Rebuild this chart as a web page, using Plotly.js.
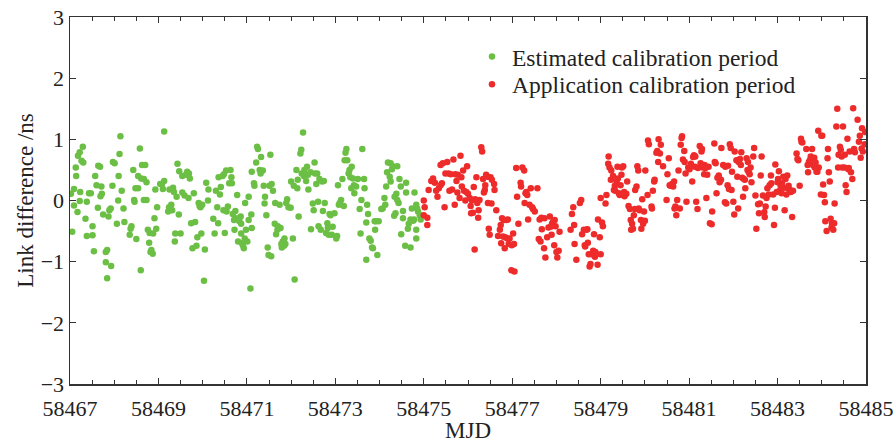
<!DOCTYPE html>
<html>
<head>
<meta charset="utf-8">
<script src="https://cdn.plot.ly/plotly-3.0.1.min.js"></script>
<style>html,body{margin:0;padding:0;background:#fff;}#chart{width:894px;height:443px;}</style>
</head>
<body>
<div id="chart"></div>
<script>
// Estimated calibration period (green), MJD and link difference (ns)
const estX1 = [58467.02,58467.05,58467.09,58467.09,58467.13,58467.14,58467.17,58467.18,58467.22,58467.23,
58467.22,58467.26,58467.29,58467.30,58467.35,58467.38,58467.38,58467.43,58467.47,58467.51,
58467.51,58467.54,58467.57,58467.60,58467.63,58467.64,58467.68,58467.69,58467.71,58467.72,
58467.75,58467.81,58467.81,58467.84,58467.84,58467.87,58467.89,58467.92,58467.93,58467.96,
58467.97,58468.01,58468.06,58468.09,58468.10,58468.12,58468.14,58468.17,58468.21,58468.23,
58468.35,58468.37,58468.39,58468.43,58468.45,58468.46,58468.48,58468.50,58468.54,58468.54,
58468.58,58468.60,58468.61,58468.63,58468.67,58468.70,58468.67,58468.73,58468.73,58468.76,
58468.80,58468.79,58468.82,58468.84,58468.87,58468.88,58468.91,58468.93,58468.95,58468.97,
58469.04,58469.08,58469.10,58469.13,58469.13,58469.22,58469.24,58469.25,58469.27,58469.29,
58469.31,58469.33,58469.35,58469.37,58469.38,58469.41,58469.43,58469.46,58469.47,58469.50,
58469.54,58469.54,58469.59,58469.62,58469.65,58469.68,58469.69,58469.71,58469.74,58469.77,
58469.80,58469.83,58469.86,58469.88,58469.91,58469.93,58469.95,58469.97,58469.99,58470.03,
58470.05,58470.08,58470.12,58470.13,58470.24,58470.27,58470.30,58470.33,58470.35,58470.36,
58470.39,58470.41,58470.45,58470.47,58470.48,58470.50,58470.53,58470.54,58470.57,58470.60];
const estY1 = [0.11,-0.51,0.19,-0.08,0.54,0.40,-0.19,0.73,0.79,0.14,
-0.01,0.65,0.88,0.62,-0.30,-0.02,-0.58,0.12,0.12,-0.42,
-0.57,-0.83,0.40,0.25,-0.12,0.57,0.55,0.07,0.23,0.11,
-0.23,-0.84,-1.01,-0.81,-1.27,-0.26,-0.16,-0.13,-1.07,0.24,
0.63,0.61,-0.38,0.00,0.40,0.76,1.05,0.16,-0.13,-0.35,
-0.56,-0.46,-0.42,0.50,0.01,-0.02,0.20,-0.63,0.20,0.40,
0.85,-1.14,0.36,0.58,0.01,0.58,0.35,0.01,0.30,-0.48,
-0.53,-0.69,-0.84,-0.81,-0.87,-0.54,-0.29,0.18,-0.46,-0.11,
0.27,0.27,0.19,1.13,0.32,-0.18,-0.11,0.18,-0.13,-0.07,
-0.16,0.21,0.14,-0.67,-0.54,0.06,0.60,-0.23,0.48,-0.54,
0.40,0.13,0.08,0.42,0.47,0.04,0.44,0.36,-0.37,-0.78,
0.12,-0.35,-0.74,-0.60,-0.04,-0.09,-0.11,-0.54,-0.07,-1.31,
-0.80,0.29,0.00,0.18,-0.30,-0.54,0.16,-0.11,-0.37,0.38,
0.10,0.22,0.40,-0.16,0.43,-0.53,0.49,-0.18,-0.10,0.28];

const estX2 = [58470.63,58470.65,58470.66,58470.68,58470.71,58470.72,58470.74,58470.76,58470.78,58470.80,
58470.83,58470.86,58470.87,58470.87,58470.89,58470.91,58470.93,58470.95,58470.96,58470.98,
58471.01,58471.04,58471.04,58471.08,58471.10,58471.11,58471.11,58471.16,58471.17,58471.21,
58471.23,58471.25,58471.29,58471.31,58471.32,58471.36,58471.38,58471.40,58471.41,58471.44,
58471.47,58471.49,58471.51,58471.53,58471.55,58471.56,58471.59,58471.63,58471.64,58471.66,
58471.69,58471.70,58471.74,58471.76,58471.78,58471.79,58471.81,58471.84,58471.85,58471.87,
58471.89,58471.91,58471.94,58471.99,58472.00,58472.04,58472.06,58472.08,58472.12,58472.14,
58472.15,58472.17,58472.21,58472.23,58472.24,58472.27,58472.29,58472.30,58472.34,58472.36,
58472.38,58472.39,58472.44,58472.45,58472.49,58472.51,58472.53,58472.54,58472.57,58472.59,
58472.61,58472.62,58472.64,58472.67,58472.70,58472.72,58472.74,58472.76,58472.79,58472.82,
58472.83,58472.85,58472.87,58472.89,58472.92,58472.94,58472.98,58473.02,58473.04,58473.06,
58473.08,58473.10,58473.13,58473.16,58473.19,58473.21,58473.23,58473.25,58473.27,58473.30,
58473.32,58473.34,58473.36,58473.37,58473.40,58473.42,58473.43,58473.47,58473.51,58473.55,
58473.57,58473.59,58473.61,58473.65,58473.66,58473.70,58473.72,58473.74,58473.77,58473.80,
58473.83,58473.85,58473.89,58473.90,58473.92,58473.95,58473.98,58473.70,58474.04,58474.07,
58474.11,58474.13,58474.15,58474.17,58474.19,58474.23];
const estY2 = [0.50,0.38,0.28,-0.22,-0.32,-0.48,-0.17,-0.29,0.09,-0.67,
-0.34,-0.26,-0.54,-0.38,-0.70,-0.73,-0.78,-0.62,-0.04,-0.48,
-0.67,0.06,-0.32,-1.44,-0.23,-0.45,0.47,0.28,0.24,0.62,
0.88,0.84,0.50,0.44,0.71,0.49,0.24,-0.05,0.06,-0.24,
-0.77,-0.89,0.24,0.75,-0.91,0.27,0.16,-0.38,-0.04,-0.55,
-0.48,-0.42,-0.07,-0.45,-0.71,-0.77,-0.67,-0.74,-0.62,-0.71,
-0.04,0.02,-0.11,-0.12,0.31,-0.62,0.24,-1.29,0.50,0.20,
0.34,-0.26,0.77,0.83,0.44,1.11,0.40,0.50,0.32,0.55,
0.42,0.18,0.46,-0.47,-0.05,-0.16,0.62,0.44,0.27,0.44,
-0.02,-0.42,0.35,-0.48,0.31,-0.17,0.32,-0.04,-0.53,-0.37,
-0.45,-0.56,-0.22,-0.24,-0.56,-0.43,-0.21,-0.62,-0.58,0.25,
-0.07,-0.04,0.01,0.35,-0.09,0.66,0.78,0.84,0.66,0.44,
0.50,0.38,0.20,0.55,0.36,0.25,0.12,0.23,0.35,-0.14,
-0.54,0.01,0.84,0.35,0.20,-0.36,-0.07,-0.22,-0.62,-0.66,
-0.77,-0.78,-0.34,-0.48,-0.34,-0.89,-0.34,-0.97,-0.14,-0.13,
0.04,-0.07,0.23,0.46,0.62,0.39];

const estX3 = [58474.25,58474.28,58474.25,58474.30,58474.40,58474.45,58474.48,58474.34,58474.38,58474.40,
58474.43,58474.33,58474.36,58474.53,58474.53,58474.60,58474.60,58474.79,58474.73,58474.70,
58474.66,58474.64,58474.76,58474.78,58474.83,58474.85,58474.87,58474.91,58474.93,58474.83,
58474.83,58474.49,58474.58,58474.70];
const estY3 = [0.61,0.51,0.31,0.56,0.56,0.35,0.23,0.06,0.11,0.01,
-0.04,-0.25,-0.21,-0.17,-0.29,0.29,0.13,0.13,-0.13,-0.31,
-0.38,-0.46,-0.33,-0.31,-0.07,-0.13,-0.18,-0.24,-0.31,-0.48,
-0.62,-0.55,-0.74,-0.77];

// Application calibration period (red)
const appX1 = [58475.00,58475.02,58475.00,58475.08,58475.08,58475.11,58475.17,58475.21,58475.25,58475.28,
58475.31,58475.34,58475.38,58475.41,58475.38,58475.43,58475.47,58475.49,58475.53,58475.56,
58475.58,58475.61,58475.64,58475.67,58475.70,58475.71,58475.74,58475.76,58475.77,58475.81,
58475.83,58475.85,58475.86,58475.89,58475.91,58475.94,58475.96,58475.98,58476.00,58476.04,
58476.06,58476.07,58476.09,58476.11,58476.13,58476.15,58476.16,58476.19,58476.21,58476.23,
58476.24,58476.26,58476.30,58476.32,58476.34,58476.36,58476.38,58476.39,58476.41,58476.44,
58476.45,58476.47,58476.49,58476.51,58476.53,58476.54,58476.59,58476.60,58476.64,58476.68,
58476.72,58476.74,58476.75,58476.77,58476.79,58476.81,58476.83,58476.84,58476.87,58476.89,
58476.90,58476.92,58476.94,58476.98,58476.99,58477.02,58477.04,58477.05,58477.09,58477.11,
58477.14,58477.19,58477.20,58477.23,58477.27,58477.28,58477.30,58477.32,58477.34,58477.36,
58477.39,58477.42,58477.45,58477.47,58477.51,58477.57,58477.60,58477.62,58477.64,58477.66,
58477.67,58477.72,58477.73,58477.75,58477.79,58477.82,58477.85];
const appY1 = [0.00,-0.11,-0.24,-0.28,-0.40,0.17,0.32,0.36,0.29,0.16,
0.06,0.20,0.25,0.28,0.58,0.61,-0.11,0.44,0.63,0.44,
0.16,0.43,0.18,0.67,-0.07,0.43,0.32,0.13,0.42,0.04,
0.73,0.38,0.23,0.49,0.16,0.00,0.14,0.56,0.11,0.04,
-0.09,-0.21,0.00,-0.20,0.22,-0.80,0.02,0.38,-0.04,-0.28,
-0.16,0.01,0.87,0.80,0.35,0.13,0.17,0.25,0.42,0.39,
-0.04,-0.46,-0.56,0.38,-0.05,0.34,0.27,0.17,-0.16,-0.58,
-0.48,-0.40,-0.70,-0.29,-0.59,-0.32,-0.78,-0.60,-0.32,-0.62,
-0.31,-0.71,-0.62,-1.14,-0.73,-0.54,-0.71,-1.16,0.53,0.06,
-0.38,0.29,0.23,0.54,0.49,-0.04,0.12,0.14,0.09,-0.31,
-0.07,0.20,-0.11,-0.14,-0.18,0.20,-0.63,-0.31,-0.67,-0.28,
-0.47,-0.78,-0.29,-0.93,-0.60,-0.44,-0.26];

const appX2 = [58477.87,58477.89,58477.90,58477.92,58477.95,58477.96,58477.98,58478.00,58478.02,58478.05,
58478.07,58478.32,58478.35,58478.38,58478.40,58478.41,58478.45,58478.53,58478.56,58478.58,
58478.62,58478.64,58478.65,58478.68,58478.70,58478.71,58478.73,58478.75,58478.77,58478.79,
58478.83,58478.85,58478.87,58478.88,58478.90,58478.93,58478.94,58478.98,58479.00,58479.03,
58479.05,58479.00,58479.11,58479.13,58479.17,58479.18,58479.20,58479.23,58479.24,58479.28,
58479.30,58479.32,58479.33,58479.36,58479.38,58479.39,58479.41,58479.43,58479.45,58479.47,
58479.48,58479.51,58479.53,58479.54,58479.58,58479.60,58479.63,58479.66,58479.68,58479.69,
58479.71,58479.73,58479.75,58479.77,58479.78,58479.81,58479.83,58479.85,58479.86,58479.88,
58479.91,58479.92,58479.94,58479.96,58479.98,58480.00,58480.01,58480.06,58480.07,58480.09,
58480.15,58480.16,58480.18,58480.21,58480.22,58480.26,58480.28,58480.30,58480.31,58480.34,
58480.36,58480.41,58480.49,58480.51,58480.54,58480.56,58480.58,58480.61,58480.64,58480.66,
58480.67,58480.69,58480.71,58480.73,58480.76,58480.79,58480.81,58480.83,58480.84,58480.86,
58480.89,58480.90,58480.92,58480.94,58480.98,58481.01,58481.04,58481.07,58481.09,58481.11,
58481.13,58481.14,58481.16,58481.19,58481.20,58481.24,58481.26,58481.28,58481.29,58481.31,
58481.34,58481.35,58481.37,58481.39,58481.41,58481.44,58481.47];
const appY2 = [-0.43,-0.56,-0.38,-0.35,-0.73,-0.32,-0.42,-0.84,-0.93,-0.82,
-0.51,-0.48,-0.22,-0.11,-0.40,-0.71,-0.97,-0.04,0.01,-0.55,
-0.48,-0.73,-0.75,-0.48,-0.47,-0.69,-0.88,-1.08,-1.04,-0.88,
-0.82,-0.55,-0.92,-0.84,-0.88,-1.05,-0.31,-0.60,-0.88,-0.36,
-0.42,0.04,-0.05,0.09,0.60,0.72,0.54,0.34,0.49,0.40,
0.17,0.24,0.16,0.31,0.55,0.36,0.12,0.09,0.25,0.42,
0.54,0.56,0.14,0.07,0.11,0.31,-0.09,-0.14,-0.32,-0.48,
-0.38,-0.46,-0.24,-0.14,0.17,0.23,0.56,0.49,-0.13,-0.16,
-0.32,-0.46,0.02,-0.38,-0.18,-0.33,0.49,0.09,0.98,0.92,
-0.10,-0.13,0.16,0.31,0.34,0.78,0.81,0.63,1.00,0.77,
0.91,0.56,0.01,0.43,0.69,0.25,0.24,0.27,0.23,0.31,
-0.13,-0.10,-0.24,0.01,0.49,-0.13,0.91,1.02,1.05,0.67,
0.81,0.63,0.44,-0.02,0.54,0.51,0.60,0.31,0.71,0.74,
0.55,0.72,-0.02,-0.14,0.53,0.89,0.61,0.80,0.84,0.54,
0.43,0.58,0.53,0.04,0.42,0.55,-0.37];

const appX3 = [58481.51,58481.52,58481.57,58481.58,58481.60,58481.62,58481.64,58481.67,58481.69,58481.72,
58481.73,58481.77,58481.81,58481.82,58481.84,58481.87,58481.88,58481.90,58481.92,58481.94,
58481.96,58481.97,58482.00,58482.02,58482.03,58482.07,58482.09,58482.11,58482.12,58482.15,
58482.17,58482.18,58482.20,58482.22,58482.24,58482.26,58482.27,58482.30,58482.32,58482.33,
58482.35,58482.37,58482.39,58482.41,58482.45,58482.47,58482.50,58482.52,58482.56,58482.58,
58482.60,58482.62,58482.64,58482.67,58482.70,58482.71,58482.73,58482.75,58482.77,58482.80,
58482.82,58482.85,58482.86,58482.90,58482.92,58482.94,58482.95,58482.98,58483.00,58483.01,
58483.03,58483.05,58483.07,58483.09,58483.10,58483.13,58483.15,58483.16,58483.18,58483.20,
58483.22,58483.24,58483.25,58483.28,58483.30,58483.33,58483.35,58483.43,58483.45,58483.47,
58483.50,58483.53,58483.54,58483.56,58483.65,58483.68,58483.69,58483.71,58483.73,58483.75,
58483.78,58483.80,58483.83,58483.84,58483.86,58483.88,58483.90,58483.92,58483.93,58483.98,
58483.99,58484.01,58484.03,58484.05,58484.07,58484.08,58484.11,58484.13,58484.14,58484.16,
58484.18,58484.20,58484.22,58484.23,58484.26,58484.28,58484.29,58484.33,58484.35,58484.37,
58484.38,58484.41,58484.43,58484.45,58484.46,58484.48,58484.51,58484.52,58484.54,58484.56,
58484.58,58484.60,58484.61,58484.63,58484.66,58484.69,58484.71,58484.73,58484.75,58484.81,
58484.84,58484.86,58484.88,58484.90,58484.91,58484.93,58484.98,58484.97];
const appY3 = [-0.39,-0.18,0.93,0.63,0.61,0.12,0.37,0.41,0.30,0.34,
0.86,0.58,-0.03,0.55,-0.05,0.25,0.57,0.19,0.92,0.86,
0.17,0.47,-0.02,-0.23,0.80,0.66,0.39,-0.13,0.63,0.68,
0.58,0.79,0.37,0.06,0.35,0.34,0.20,0.69,0.50,0.63,
0.46,0.43,0.54,0.30,0.72,0.86,0.08,-0.46,-0.06,-0.21,
-0.05,0.41,0.72,0.08,-0.19,-0.27,-0.10,0.04,0.20,0.10,
0.25,0.41,0.28,0.10,-0.40,-0.12,0.59,0.14,0.30,0.35,
0.48,0.16,0.24,0.12,0.28,0.39,0.21,-0.16,0.35,0.10,
0.41,0.20,0.24,0.17,0.14,-0.27,0.16,0.77,0.68,0.66,
0.24,1.01,0.96,0.95,0.84,0.58,0.46,0.63,0.66,0.72,
0.84,0.58,0.70,0.54,0.62,0.47,0.47,1.14,0.54,0.10,
1.06,1.06,0.26,0.09,-0.03,-0.34,-0.50,0.69,0.84,0.46,
0.31,-0.30,-0.44,-0.37,-0.48,-0.37,-0.05,1.21,1.50,0.54,
0.75,0.88,0.83,0.72,0.54,1.21,0.54,0.75,0.25,0.14,
1.01,0.51,0.53,0.80,0.46,0.35,1.51,0.84,0.79,1.32,
0.96,1.06,0.70,0.85,1.18,0.80,1.12,0.92];

const estX = estX1.concat(estX2, estX3);
const estY = estY1.concat(estY2, estY3);
const appX = appX1.concat(appX2, appX3);
const appY = appY1.concat(appY2, appY3);

const seriesNames = ['Estimated calibration period', 'Application calibration period'];
const xTitle = 'MJD';
const yTitle = 'Link difference /ns';

const FONT = '"Liberation Serif", "Times New Roman", Times, serif';
const AX = '#333333';
const TXT = '#222222';

const traces = [
  {x: estX, y: estY, type: 'scatter', mode: 'markers', name: seriesNames[0], legend: 'legend',
   marker: {color: '#6cbf45', size: 6.5}},
  {x: appX, y: appY, type: 'scatter', mode: 'markers', name: seriesNames[1], legend: 'legend2',
   marker: {color: '#ee2b2b', size: 6.5}}
];

const legendFont = {family: FONT, size: 23.5, color: TXT};

const layout = {
  width: 894, height: 443,
  margin: {l: 70, r: 28, t: 17, b: 59},
  paper_bgcolor: '#ffffff', plot_bgcolor: '#ffffff',
  font: {family: FONT, size: 22, color: TXT},
  showlegend: true,
  legend: {x: 0.505, y: 0.952, xanchor: 'left', yanchor: 'top', bgcolor: 'rgba(0,0,0,0)',
           font: legendFont, itemwidth: 30},
  legend2: {x: 0.505, y: 0.876, xanchor: 'left', yanchor: 'top', bgcolor: 'rgba(0,0,0,0)',
           font: legendFont, itemwidth: 30},
  xaxis: {
    range: [58467, 58485], tickmode: 'linear', tick0: 58467, dtick: 2, tickformat: 'd',
    ticks: 'inside', ticklen: 6, tickwidth: 1.2, tickcolor: AX,
    minor: {dtick: 0.5, ticks: 'inside', ticklen: 4, tickwidth: 1, tickcolor: AX},
    showline: true, linecolor: AX, linewidth: 1.5, mirror: 'ticks',
    showgrid: false, zeroline: false, ticklabelstandoff: 4,
    tickfont: {family: FONT, size: 22, color: TXT},
    title: {text: xTitle, font: {family: FONT, size: 23, color: TXT}, standoff: 2}
  },
  yaxis: {
    range: [-3, 3], tickmode: 'linear', tick0: -3, dtick: 1,
    ticks: 'inside', ticklen: 6, tickwidth: 1.2, tickcolor: AX,
    showline: true, linecolor: AX, linewidth: 1.5, mirror: 'ticks',
    showgrid: false, zeroline: false,
    tickfont: {family: FONT, size: 22, color: TXT},
    title: {text: yTitle, font: {family: FONT, size: 23, color: TXT}, standoff: 0}
  }
};

Plotly.newPlot('chart', traces, layout, {staticPlot: true, displayModeBar: false});
</script>
</body>
</html>
